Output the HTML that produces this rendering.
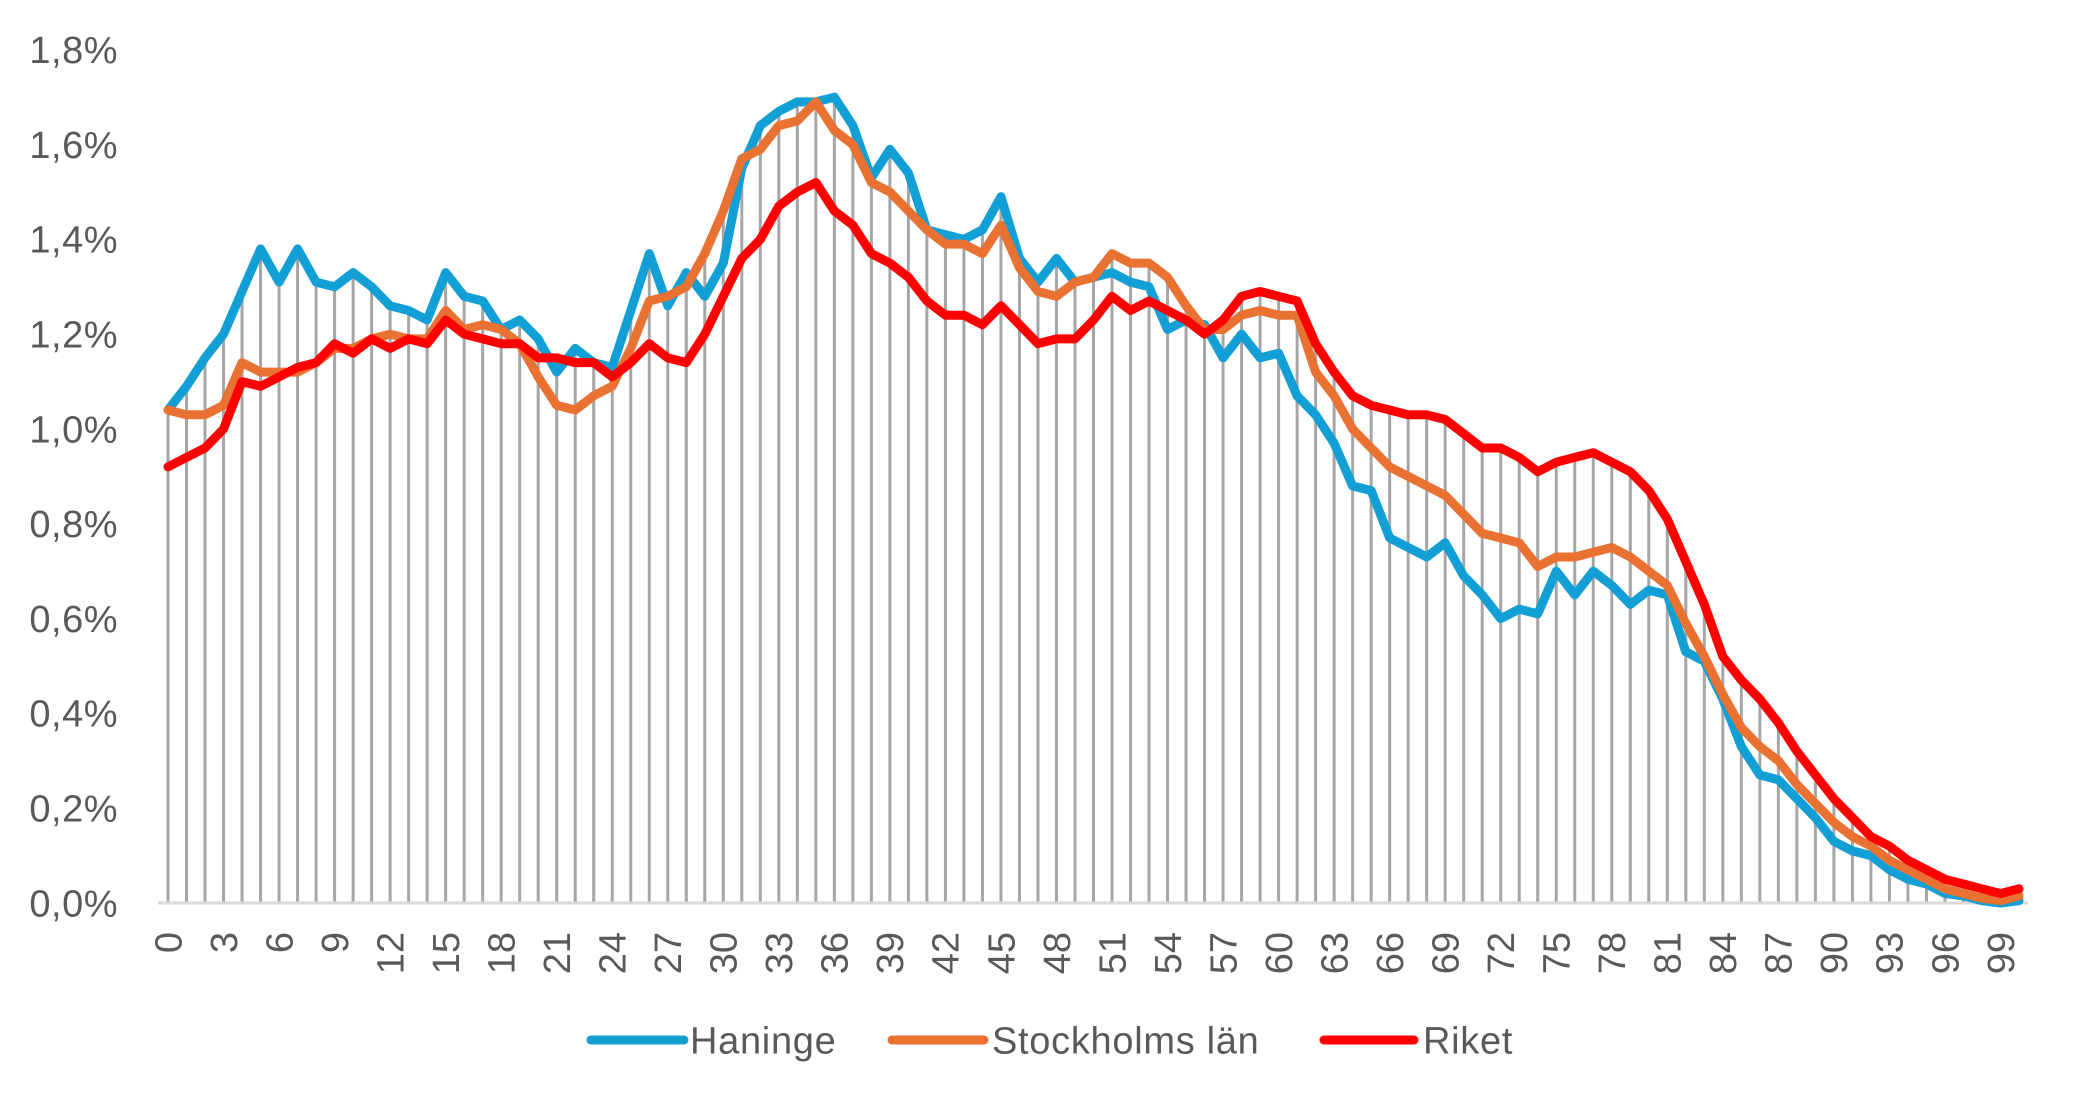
<!DOCTYPE html>
<html><head><meta charset="utf-8"><style>
html,body{margin:0;padding:0;background:#fff;}
svg{display:block;font-family:"Liberation Sans",Arial,sans-serif;}
text{fill:#595959;font-size:38px;}
</style></head><body>
<svg id="s" width="2079" height="1108" viewBox="0 0 2079 1108" xmlns="http://www.w3.org/2000/svg">
<g id="drops" stroke="#a6a6a6" stroke-width="3"></g>
<line x1="158" y1="903" x2="2028" y2="903" stroke="#d9d9d9" stroke-width="3"/>
<g id="lines" fill="none" stroke-width="9" stroke-linejoin="round" stroke-linecap="round"></g>
<g text-anchor="end" style="letter-spacing:0.5px">
<text x="118" y="903" dy="0.35em">0,0%</text>
<text x="118" y="808.2" dy="0.35em">0,2%</text>
<text x="118" y="713.4" dy="0.35em">0,4%</text>
<text x="118" y="618.6" dy="0.35em">0,6%</text>
<text x="118" y="523.8" dy="0.35em">0,8%</text>
<text x="118" y="429" dy="0.35em">1,0%</text>
<text x="118" y="334.2" dy="0.35em">1,2%</text>
<text x="118" y="239.4" dy="0.35em">1,4%</text>
<text x="118" y="144.6" dy="0.35em">1,6%</text>
<text x="118" y="49.8" dy="0.35em">1,8%</text>
</g>
<g text-anchor="end">
<text transform="translate(168,932) rotate(-90)" dy="0.35em">0</text>
<text transform="translate(223.5,932) rotate(-90)" dy="0.35em">3</text>
<text transform="translate(279.1,932) rotate(-90)" dy="0.35em">6</text>
<text transform="translate(334.6,932) rotate(-90)" dy="0.35em">9</text>
<text transform="translate(390.1,932) rotate(-90)" dy="0.35em">12</text>
<text transform="translate(445.7,932) rotate(-90)" dy="0.35em">15</text>
<text transform="translate(501.2,932) rotate(-90)" dy="0.35em">18</text>
<text transform="translate(556.7,932) rotate(-90)" dy="0.35em">21</text>
<text transform="translate(612.2,932) rotate(-90)" dy="0.35em">24</text>
<text transform="translate(667.8,932) rotate(-90)" dy="0.35em">27</text>
<text transform="translate(723.3,932) rotate(-90)" dy="0.35em">30</text>
<text transform="translate(778.8,932) rotate(-90)" dy="0.35em">33</text>
<text transform="translate(834.4,932) rotate(-90)" dy="0.35em">36</text>
<text transform="translate(889.9,932) rotate(-90)" dy="0.35em">39</text>
<text transform="translate(945.4,932) rotate(-90)" dy="0.35em">42</text>
<text transform="translate(1001,932) rotate(-90)" dy="0.35em">45</text>
<text transform="translate(1056.5,932) rotate(-90)" dy="0.35em">48</text>
<text transform="translate(1112,932) rotate(-90)" dy="0.35em">51</text>
<text transform="translate(1167.5,932) rotate(-90)" dy="0.35em">54</text>
<text transform="translate(1223.1,932) rotate(-90)" dy="0.35em">57</text>
<text transform="translate(1278.6,932) rotate(-90)" dy="0.35em">60</text>
<text transform="translate(1334.1,932) rotate(-90)" dy="0.35em">63</text>
<text transform="translate(1389.7,932) rotate(-90)" dy="0.35em">66</text>
<text transform="translate(1445.2,932) rotate(-90)" dy="0.35em">69</text>
<text transform="translate(1500.7,932) rotate(-90)" dy="0.35em">72</text>
<text transform="translate(1556.3,932) rotate(-90)" dy="0.35em">75</text>
<text transform="translate(1611.8,932) rotate(-90)" dy="0.35em">78</text>
<text transform="translate(1667.3,932) rotate(-90)" dy="0.35em">81</text>
<text transform="translate(1722.8,932) rotate(-90)" dy="0.35em">84</text>
<text transform="translate(1778.4,932) rotate(-90)" dy="0.35em">87</text>
<text transform="translate(1833.9,932) rotate(-90)" dy="0.35em">90</text>
<text transform="translate(1889.4,932) rotate(-90)" dy="0.35em">93</text>
<text transform="translate(1945,932) rotate(-90)" dy="0.35em">96</text>
<text transform="translate(2000.5,932) rotate(-90)" dy="0.35em">99</text>
</g>
<g style="font-size:39px;letter-spacing:0.7px">
<line x1="591" y1="1040" x2="684" y2="1040" stroke="#119fd6" stroke-width="9" stroke-linecap="round"/>
<text x="690" y="1040" dy="0.35em">Haninge</text>
<line x1="892" y1="1040" x2="984" y2="1040" stroke="#e97132" stroke-width="9" stroke-linecap="round"/>
<text x="992" y="1040" dy="0.35em">Stockholms län</text>
<line x1="1324" y1="1040" x2="1414" y2="1040" stroke="#ff0000" stroke-width="9" stroke-linecap="round"/>
<text x="1423" y="1040" dy="0.35em">Riket</text>
</g>
</svg>
<script>
var H=[1.04,1.09,1.15,1.20,1.29,1.38,1.31,1.38,1.31,1.30,1.33,1.30,1.26,1.25,1.23,1.33,1.28,1.27,1.21,1.23,1.19,1.12,1.17,1.14,1.13,1.25,1.37,1.26,1.33,1.28,1.35,1.55,1.64,1.67,1.69,1.69,1.70,1.64,1.53,1.59,1.54,1.42,1.41,1.40,1.42,1.49,1.36,1.31,1.36,1.31,1.32,1.33,1.31,1.30,1.21,1.23,1.22,1.15,1.20,1.15,1.16,1.07,1.03,0.97,0.88,0.87,0.77,0.75,0.73,0.76,0.69,0.65,0.60,0.62,0.61,0.70,0.65,0.70,0.67,0.63,0.66,0.65,0.53,0.51,0.43,0.33,0.27,0.26,0.22,0.18,0.13,0.11,0.10,0.07,0.05,0.04,0.02,0.015,0.005,0.0,0.005];
var S=[1.04,1.03,1.03,1.05,1.14,1.12,1.12,1.12,1.14,1.17,1.17,1.19,1.20,1.19,1.19,1.25,1.21,1.22,1.21,1.18,1.11,1.05,1.04,1.07,1.09,1.17,1.27,1.28,1.30,1.37,1.46,1.57,1.59,1.64,1.65,1.69,1.63,1.60,1.52,1.50,1.46,1.42,1.39,1.39,1.37,1.43,1.34,1.29,1.28,1.31,1.32,1.37,1.35,1.35,1.32,1.26,1.21,1.21,1.24,1.25,1.24,1.24,1.12,1.07,1.00,0.96,0.92,0.90,0.88,0.86,0.82,0.78,0.77,0.76,0.71,0.73,0.73,0.74,0.75,0.73,0.70,0.67,0.59,0.52,0.44,0.37,0.33,0.30,0.25,0.21,0.17,0.14,0.12,0.09,0.07,0.05,0.03,0.02,0.01,0.005,0.015];
var R=[0.92,0.94,0.96,1.00,1.10,1.09,1.11,1.13,1.14,1.18,1.16,1.19,1.17,1.19,1.18,1.23,1.20,1.19,1.18,1.18,1.15,1.15,1.14,1.14,1.11,1.14,1.18,1.15,1.14,1.20,1.28,1.36,1.40,1.47,1.50,1.52,1.46,1.43,1.37,1.35,1.32,1.27,1.24,1.24,1.22,1.26,1.22,1.18,1.19,1.19,1.23,1.28,1.25,1.27,1.25,1.23,1.20,1.23,1.28,1.29,1.28,1.27,1.18,1.12,1.07,1.05,1.04,1.03,1.03,1.02,0.99,0.96,0.96,0.94,0.91,0.93,0.94,0.95,0.93,0.91,0.87,0.81,0.72,0.63,0.52,0.47,0.43,0.38,0.32,0.27,0.22,0.18,0.14,0.12,0.09,0.07,0.05,0.04,0.03,0.02,0.03];
function X(i){return 168+18.51*i;}function Y(v){return 903-v*474;}
var ns="http://www.w3.org/2000/svg",d=document.getElementById("drops"),g=document.getElementById("lines");
for(var i=0;i<=100;i++){var m=Math.max(H[i],S[i],R[i]);var l=document.createElementNS(ns,"line");l.setAttribute("x1",X(i));l.setAttribute("x2",X(i));l.setAttribute("y1",903);l.setAttribute("y2",Y(m));d.appendChild(l);}
[[H,"#119fd6"],[S,"#e97132"],[R,"#ff0000"]].forEach(function(p){var s="";p[0].forEach(function(v,i){s+=(i?"L":"M")+X(i).toFixed(1)+" "+Y(v).toFixed(1);});var e=document.createElementNS(ns,"path");e.setAttribute("d",s);e.setAttribute("stroke",p[1]);g.appendChild(e);});
</script>
</body></html>
